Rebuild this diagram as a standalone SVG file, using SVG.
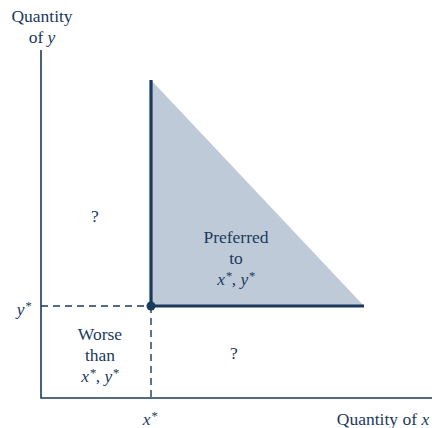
<svg xmlns="http://www.w3.org/2000/svg" width="432" height="428" viewBox="0 0 432 428">
<style>
text{font-family:"Liberation Serif","Times New Roman",serif;font-size:17.5px;fill:#1b3a5c;text-anchor:middle}
.i{font-style:italic}
.s{font-size:13px}
.ax{stroke:#1b3a5c;stroke-width:1.6;fill:none}
.th{stroke:#1b3a5c;stroke-width:3.2;fill:none}
.d{stroke:#1b3a5c;stroke-width:1.4;stroke-dasharray:7,5;fill:none}
</style>
<rect width="432" height="428" fill="#fff"/>
<g id="region">
<polygon points="151,80 151,306 364,306" fill="#bfcad9"/>
</g>
<g id="connectors">
<path class="ax" d="M41,50 V398 H432"/>
<path class="d" d="M41,306 H151"/>
<path class="d" d="M151,306 V398"/>
<path class="th" d="M151,80 V306 H364"/>
</g>
<g id="point"><circle cx="151" cy="306" r="4.5" fill="#1b3a5c"/></g>
<g id="labels">
<text x="42" y="22">Quantity</text>
<text x="42" y="43">of <tspan class="i">y</tspan></text>
<text x="383" y="425">Quantity of <tspan class="i">x</tspan></text>
<text x="24" y="315" class="i">y<tspan class="s" dy="-5">*</tspan></text>
<text x="150" y="425" class="i">x<tspan class="s" dy="-5">*</tspan></text>
<text x="95" y="222">?</text>
<text x="234" y="359">?</text>
<text x="236" y="243">Preferred</text>
<text x="236" y="264">to</text>
<text x="236" y="285" class="i">x<tspan class="s" dy="-5">*</tspan><tspan dy="5" font-style="normal">, </tspan>y<tspan class="s" dy="-5">*</tspan></text>
<text x="100" y="340">Worse</text>
<text x="100" y="361">than</text>
<text x="100" y="382" class="i">x<tspan class="s" dy="-5">*</tspan><tspan dy="5" font-style="normal">, </tspan>y<tspan class="s" dy="-5">*</tspan></text>
</g>
</svg>
